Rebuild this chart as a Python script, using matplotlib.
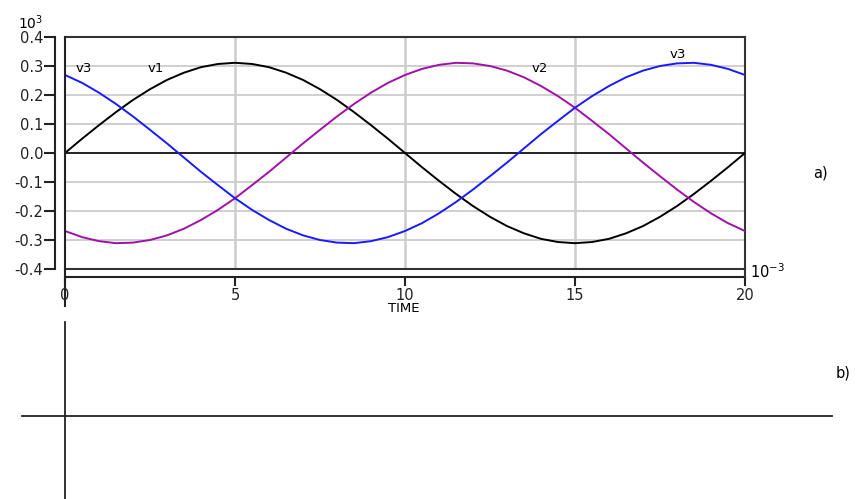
import matplotlib
matplotlib.use('Agg')
import matplotlib.pyplot as plt
from matplotlib.lines import Line2D

# time in ms (axis multiplied by 10^-3), voltages in kV (axis multiplied by 10^3)
time_ms = [0.0, 0.5, 1.0, 1.5, 2.0, 2.5, 3.0, 3.5, 4.0, 4.5,
           5.0, 5.5, 6.0, 6.5, 7.0, 7.5, 8.0, 8.5, 9.0, 9.5,
           10.0, 10.5, 11.0, 11.5, 12.0, 12.5, 13.0, 13.5, 14.0, 14.5,
           15.0, 15.5, 16.0, 16.5, 17.0, 17.5, 18.0, 18.5, 19.0, 19.5, 20.0]

v1 = [0.000, 0.049, 0.096, 0.141, 0.183, 0.220, 0.252, 0.277, 0.296, 0.307,
      0.311, 0.307, 0.296, 0.277, 0.252, 0.220, 0.183, 0.141, 0.096, 0.049,
      0.000, -0.049, -0.096, -0.141, -0.183, -0.220, -0.252, -0.277, -0.296, -0.307,
      -0.311, -0.307, -0.296, -0.277, -0.252, -0.220, -0.183, -0.141, -0.096, -0.049, 0.000]

v2 = [-0.269, -0.290, -0.304, -0.311, -0.309, -0.300, -0.284, -0.261, -0.231, -0.196,
      -0.156, -0.111, -0.065, -0.016, 0.033, 0.080, 0.126, 0.169, 0.208, 0.242,
      0.269, 0.290, 0.304, 0.311, 0.309, 0.300, 0.284, 0.261, 0.231, 0.196,
      0.156, 0.111, 0.065, 0.016, -0.033, -0.080, -0.126, -0.169, -0.208, -0.242, -0.269]

v3 = [0.269, 0.242, 0.208, 0.169, 0.126, 0.080, 0.033, -0.016, -0.065, -0.111,
      -0.156, -0.196, -0.231, -0.261, -0.284, -0.300, -0.309, -0.311, -0.304, -0.290,
      -0.269, -0.242, -0.208, -0.169, -0.126, -0.080, -0.033, 0.016, 0.065, 0.111,
      0.156, 0.196, 0.231, 0.261, 0.284, 0.300, 0.309, 0.311, 0.304, 0.290, 0.269]

x_ticks = [0, 5, 10, 15, 20]
y_ticks = [-0.4, -0.3, -0.2, -0.1, 0.0, 0.1, 0.2, 0.3, 0.4]

plt.rcParams['font.family'] = ['DejaVu Sans']

W, H = 859, 499
fig = plt.figure(figsize=(W / 100, H / 100), dpi=100)


def fx(px):
    return px / W


def fy(py):
    return 1 - py / H


ax = fig.add_axes([fx(65), fy(269), fx(745) - fx(65), fy(37) - fy(269)])
ax.set_xlim(0, 20)
ax.set_ylim(-0.4, 0.4)

# grid
for xv in x_ticks[1:-1]:
    ax.axvline(xv, color='#cccccc', lw=1.8, zorder=0)
for yv in y_ticks[1:-1]:
    if yv != 0.0:
        ax.axhline(yv, color='#cccccc', lw=1.3, zorder=0)
ax.axhline(0.0, color='#222222', lw=1.4, zorder=1)

ax.plot(time_ms, v1, color='black', lw=1.4, zorder=3)
ax.plot(time_ms, v2, color='#a010a8', lw=1.4, zorder=3)
ax.plot(time_ms, v3, color='#1a1aff', lw=1.4, zorder=3)

# box edges
ax.spines['top'].set_color('#333333')
ax.spines['right'].set_color('#333333')
ax.spines['top'].set_linewidth(1.5)
ax.spines['right'].set_linewidth(1.5)
ax.axhline(-0.4, color='#333333', lw=1.5, clip_on=False, zorder=4)
ax.plot([0, 0], [0.4, -0.528], color='#222222', lw=1.5, clip_on=False, zorder=4)
ax.plot([20, 20], [-0.4, -0.428], color='#333333', lw=1.5, clip_on=False, zorder=4)

# detached axes
ax.spines['left'].set_position(('outward', 7.2))
ax.spines['bottom'].set_position(('outward', 5.8))
ax.spines['left'].set_linewidth(1.5)
ax.spines['bottom'].set_linewidth(1.5)
ax.spines['left'].set_color('#222222')
ax.spines['bottom'].set_color('#222222')
ax.set_xticks(x_ticks)
ax.set_yticks(y_ticks)
ax.set_xticklabels([str(v) for v in x_ticks])
ax.set_yticklabels(['%.1f' % v for v in y_ticks])
ax.tick_params(axis='y', direction='out', length=8, width=1.5, pad=0.5,
               labelsize=10.5, colors='#222222')
ax.tick_params(axis='x', direction='out', length=6.5, width=1.5, pad=1.5,
               labelsize=10.5, colors='#222222')

# curve labels
ax.text(0.56, 0.293, 'v3', fontsize=9.5, ha='center', va='center')
ax.text(2.68, 0.293, 'v1', fontsize=9.5, ha='center', va='center')
ax.text(13.97, 0.293, 'v2', fontsize=9.5, ha='center', va='center')
ax.text(18.03, 0.338, 'v3', fontsize=9.5, ha='center', va='center')

# axis multipliers and labels
fig.text(fx(18), fy(29), r'$10^3$', fontsize=10, ha='left', va='baseline')
fig.text(fx(750), fy(278), r'$10^{-3}$', fontsize=10.5, ha='left', va='baseline')
fig.text(fx(404), fy(308), 'TIME', fontsize=9.5, ha='center', va='center')
fig.text(fx(820), fy(173), 'a)', fontsize=10.5, ha='center', va='center')
fig.text(fx(843), fy(373), 'b)', fontsize=10.5, ha='center', va='center')

# empty panel b)
fig.add_artist(Line2D([fx(65), fx(65)], [fy(322), fy(499)], color='#222222', lw=1.3))
fig.add_artist(Line2D([fx(22), fx(832)], [fy(415.5), fy(415.5)], color='#222222', lw=1.3))

fig.savefig('out.png', dpi=100)
